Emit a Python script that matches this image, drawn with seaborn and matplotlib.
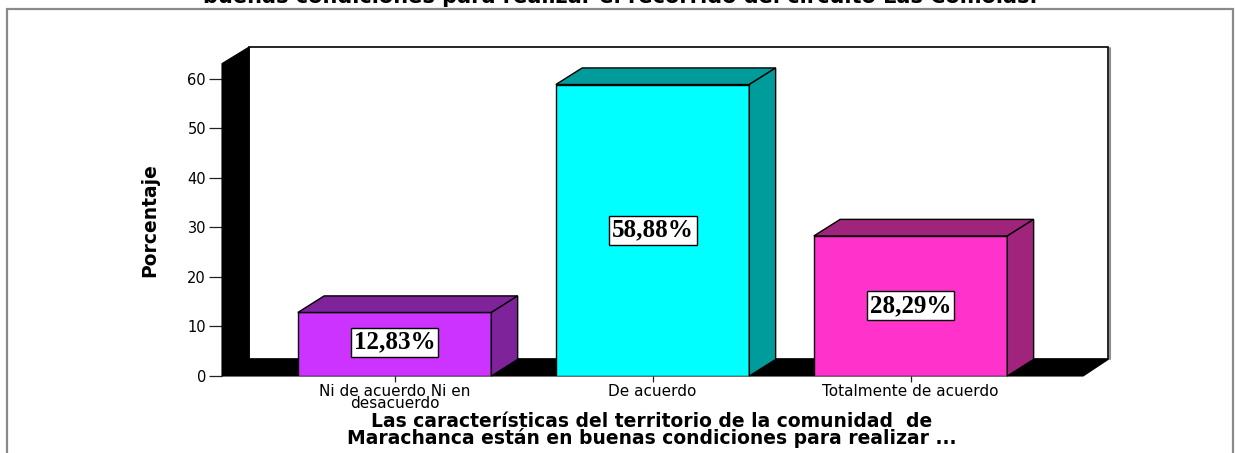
import matplotlib
matplotlib.use("Agg")
import matplotlib.pyplot as plt
from matplotlib.patches import Polygon, Rectangle
import seaborn as sns

# ---- data ----
categories = ["Ni de acuerdo Ni en desacuerdo", "De acuerdo", "Totalmente de acuerdo"]
tick_labels = ["Ni de acuerdo Ni en\ndesacuerdo", "De acuerdo", "Totalmente de acuerdo"]
values = [12.83, 58.88, 28.29]
y_ticks = [0, 10, 20, 30, 40, 50, 60]
front_colors = ["#CC33FF", "#00FFFF", "#FF33CC"]
side_colors = ["#7E2399", "#009B9B", "#A0237C"]
title_text = "buenas condiciones para realizar el recorrido del circuito Las Comolas."
xlabel_text = ("Las características del territorio de la comunidad  de\n"
               "Marachanca están en buenas condiciones para realizar ...")
ylabel_text = "Porcentaje"

sns.set_style("white")
plt.rcParams["font.family"] = ["DejaVu Sans"]

W, H = 1235, 453
fig = plt.figure(figsize=(W / 100, H / 100), dpi=100)

# axes geometry (pixels)
ax_l, ax_r, ax_b, ax_t = 222, 1110, 376, 47
ax = fig.add_axes([ax_l / W, (H - ax_b) / H, (ax_r - ax_l) / W, (ax_b - ax_t) / H])

sns.barplot(x=categories, y=values, hue=categories, palette=front_colors,
            saturation=1, width=0.75, edgecolor="black", linewidth=1.0,
            legend=False, ax=ax, zorder=3)

xmin, xmax = -0.669, 2.773
ymin, ymax = 0, 66.46
ax.set_xlim(xmin, xmax)
ax.set_ylim(ymin, ymax)

dx, dy = 0.102, 3.35  # depth offsets in data units

# walls
front_right = 2.669
back_l = xmin + 0.105
back_r = front_right + 0.097
ax.add_patch(Rectangle((back_l, dy), back_r - back_l, ymax - dy, facecolor="white",
                       edgecolor="black", linewidth=1.2, zorder=0.5, clip_on=False))
ax.plot([back_r + 0.008, back_r + 0.008], [dy, ymax - 0.3], color="#909090", lw=1.5,
        zorder=0.4, clip_on=False)
ax.add_patch(Polygon([(xmin, 0), (xmin, ymax - dy), (back_l, ymax), (back_l, dy)],
                     closed=True, facecolor="black", edgecolor="black", lw=0.8,
                     zorder=1, clip_on=False))
ax.add_patch(Polygon([(xmin, 0), (front_right, 0), (back_r, dy), (back_l, dy)],
                     closed=True, facecolor="black", edgecolor="black", lw=0.8,
                     zorder=1, clip_on=False))

# 3D faces of bars
for i, p in enumerate(ax.patches[:len(values)]):
    x0, w, h = p.get_x(), p.get_width(), p.get_height()
    top = [(x0, h), (x0 + w, h), (x0 + w + dx, h + dy), (x0 + dx, h + dy)]
    side = [(x0 + w, 0), (x0 + w + dx, dy), (x0 + w + dx, h + dy), (x0 + w, h)]
    ax.add_patch(Polygon(top, closed=True, facecolor=side_colors[i], edgecolor="black",
                         lw=1.0, zorder=3.5, clip_on=False))
    ax.add_patch(Polygon(side, closed=True, facecolor=side_colors[i], edgecolor="black",
                         lw=1.0, zorder=3.5, clip_on=False))
    lab = f"{values[i]:.2f}".replace(".", ",") + "%"
    ax.text(x0 + w / 2, h / 2 + (0.4 if i == 0 else 0), lab, ha="center", va="center",
            fontsize=18, fontweight="bold", family=["Liberation Serif", "DejaVu Serif"],
            color="black", zorder=5,
            bbox=dict(boxstyle="square,pad=0.12", facecolor="white", edgecolor="black",
                      linewidth=1.0))

for s in ax.spines.values():
    s.set_visible(False)

ax.set_yticks(y_ticks)
ax.set_yticklabels([str(t) for t in y_ticks], fontsize=10.5, color="black")
ax.tick_params(axis="y", left=True, length=9.5, width=0.9, color="#222222", pad=2)
ax.set_xticks(range(len(categories)))
ax.set_xticklabels(tick_labels, fontsize=11, linespacing=0.8, color="black")
ax.tick_params(axis="x", bottom=True, length=4, width=0.9, color="#222222", pad=1.5)
ax.set_xlabel("")
ax.set_ylabel("")

fig.text(150 / W, 1 - 220 / H, ylabel_text, rotation=90, ha="center", va="center",
         fontsize=13.5, fontweight="bold", color="black",
         family=["Liberation Sans Narrow", "DejaVu Sans"])

fig.text(652 / W, 1 - 430 / H, xlabel_text, ha="center", va="center", fontsize=13.5,
         fontweight="bold", linespacing=0.82, color="black")

fig.text(620 / W, 1 - 3 / H, title_text, ha="center", va="baseline", fontsize=15,
         fontweight="bold", color="black")

# outer frame
fig.add_artist(Rectangle((6.5 / W, -0.1), (1233 - 6.5) / W, 1.1 - 9.5 / H,
                         transform=fig.transFigure, fill=False, edgecolor="#8a8a8a",
                         linewidth=1.6))

fig.savefig("out.png", dpi=100)
